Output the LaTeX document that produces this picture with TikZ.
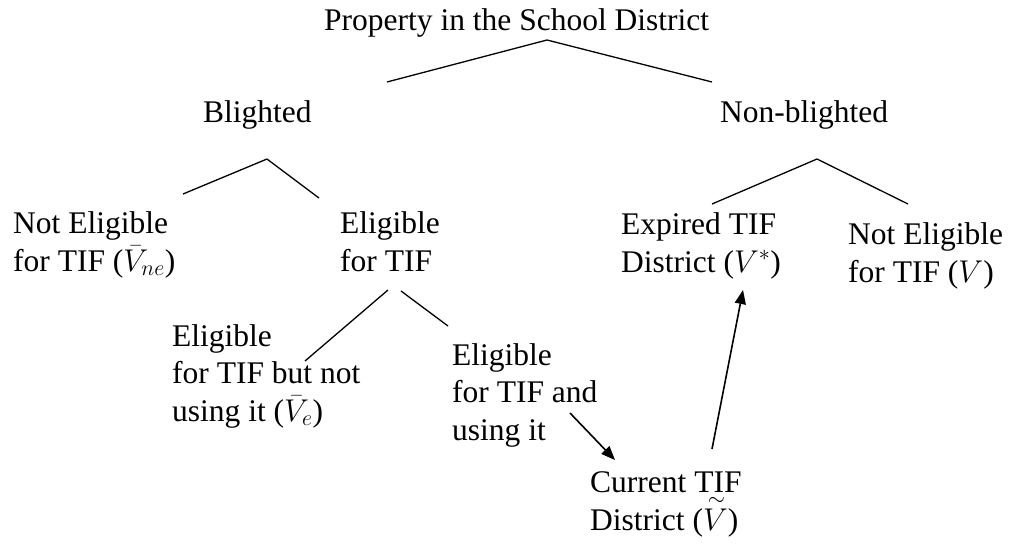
\RequirePackage{fix-cm}
\documentclass[tikz,border=0pt]{standalone}
\usepackage{fontspec}
\setmainfont{Liberation Serif}
\usetikzlibrary{arrows.meta}
\newcommand{\tildeV}{\rlap{\hspace{0.15em}\smash{\raisebox{0.78em}{$\scriptstyle\sim$}}}V}
\begin{document}
\begin{tikzpicture}[x=1pt,y=-1pt,
  lbl/.style={anchor=base west,inner sep=0pt,align=left,font=\fontsize{31.5}{37.5}\selectfont},
  branch/.style={line width=1.3pt},
  flow/.style={line width=1.6pt,-{Triangle[length=14pt,width=11pt]}}]
\useasboundingbox (0,0) rectangle (1009,552);
% text nodes (anchor = baseline of last line)
\node[lbl] (root) at (324,30) {Property in the School District};
\node[lbl] (bl) at (203,122) {Blighted};
\node[lbl] (nbl) at (720,122) {Non-blighted};
\node[lbl] (blne) at (13,271) {Not Eligible\\for TIF ($\bar{V}_{ne}$)};
\node[lbl] (ble) at (340,271) {Eligible\\for TIF};
\node[lbl] (blenot) at (172,421) {Eligible\\for TIF but not\\using it ($\bar{V}_e$)};
\node[lbl] (bleuse) at (452,440) {Eligible\\for TIF and\\using it};
\node[lbl] (exp) at (621,272) {Expired TIF\\District ($V^{*}$)};
\node[lbl] (nblne) at (848,282) {Not Eligible\\for TIF ($V$)};
\node[lbl] (cur) at (590,530) {Current TIF\\District ($\tildeV$)};
% branch end points
\coordinate (rL) at (387,82);
\coordinate (rA) at (547,40);
\coordinate (rR) at (712,82);
\coordinate (bL) at (183,194);
\coordinate (bA) at (267,159);
\coordinate (bR) at (319,198);
\coordinate (nL) at (712,204);
\coordinate (nA) at (817,159);
\coordinate (nR) at (908,204);
\coordinate (eL1) at (388,290);
\coordinate (eL2) at (305,361);
\coordinate (eR1) at (401,291);
\coordinate (eR2) at (448,326);
\coordinate (uT) at (570,413);
\coordinate (uH) at (615,460);
\coordinate (cT) at (712,449);
\coordinate (cH) at (743,290);
% branches
\draw[branch] (rL) -- (rA) -- (rR);
\draw[branch] (bL) -- (bA) -- (bR);
\draw[branch] (nL) -- (nA) -- (nR);
\draw[branch] (eL1) -- (eL2);
\draw[branch] (eR1) -- (eR2);
% arrows
\draw[flow] (uT) -- (uH);
\draw[flow] (cT) -- (cH);
\end{tikzpicture}
\end{document}
